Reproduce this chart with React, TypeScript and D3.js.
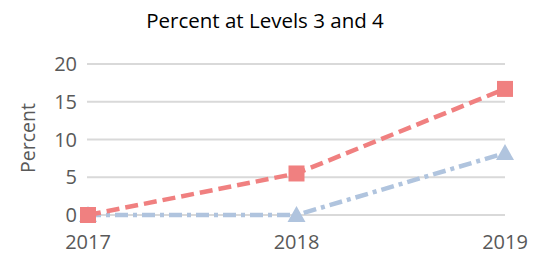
import React from 'react';
import * as d3 from 'd3';

const years = ['2017', '2018', '2019'];
const level34 = [0, 5.5, 16.7];
const level34Other = [0, 0, 8.2];
const yTicks = [0, 5, 10, 15, 20];

const W = 545;
const H = 255;
const font = "'Open Sans', 'Noto Sans', sans-serif";

export default function App() {
  const x = d3.scalePoint<string>().domain(years).range([88, 505]);
  const y = d3.scaleLinear().domain([0, 20]).range([215, 64]);

  const line = d3
    .line<number>()
    .x((_, i) => x(years[i]) as number)
    .y((d) => y(d));

  return (
    <svg width={W} height={H} style={{ position: 'absolute', left: 0, top: 0 }}>
      <rect width={W} height={H} fill="#fff" />
      <text x={265} y={28} textAnchor="middle" fontFamily={font} fontSize={20.5} fill="#000">
        Percent at Levels 3 and 4
      </text>

      {yTicks.map((t) => (
        <g key={t}>
          <line x1={87} x2={505} y1={y(t)} y2={y(t)} stroke="#d9d9d9" strokeWidth={2} />
          <text x={77} y={y(t) + 7} textAnchor="end" fontFamily={font} fontSize={20} fill="#595959">
            {t}
          </text>
        </g>
      ))}

      {years.map((yr) => (
        <text key={yr} x={x(yr)} y={249} textAnchor="middle" fontFamily={font} fontSize={20} fill="#595959">
          {yr}
        </text>
      ))}

      <text
        transform={`translate(35,138) rotate(-90)`}
        textAnchor="middle"
        fontFamily={font}
        fontSize={19.5}
        fill="#595959"
      >
        Percent
      </text>

      <path d={line(level34Other) ?? ''} fill="none" stroke="#b0c4de" strokeWidth={4.5} strokeDasharray="13 5 4 5" />
      <path d={line(level34) ?? ''} fill="none" stroke="#f08080" strokeWidth={4.5} strokeDasharray="13 6" />

      {level34Other.map((v, i) => {
        const cx = x(years[i]) as number;
        const cy = y(v);
        return (
          <path
            key={'t' + i}
            d={`M${cx},${cy - 9}L${cx + 9},${cy + 7}L${cx - 9},${cy + 7}Z`}
            fill="#b0c4de"
          />
        );
      })}
      {level34.map((v, i) => (
        <rect
          key={'s' + i}
          x={(x(years[i]) as number) - 8}
          y={y(v) - 8}
          width={16}
          height={16}
          fill="#f08080"
        />
      ))}
    </svg>
  );
}
